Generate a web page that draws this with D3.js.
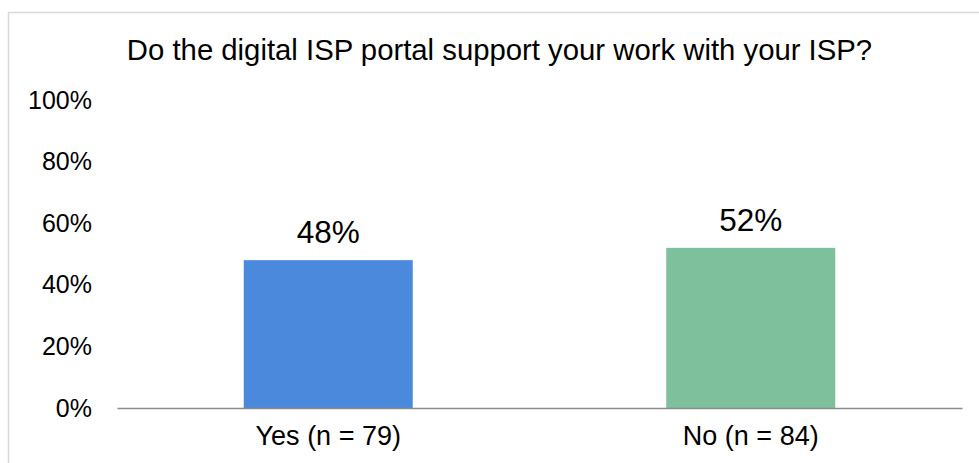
<!DOCTYPE html>
<html>
<head>
<meta charset="utf-8">
<script src="https://cdn.jsdelivr.net/npm/d3@7"></script>
<style>
  body { margin: 0; background: #fff; }
  svg { display: block; font-family: "Liberation Sans", Arial, sans-serif; }
</style>
</head>
<body>
<div id="chart"></div>
<script>
// chart data
const categories = ["Yes (n = 79)", "No (n = 84)"];
const values = [0.48, 0.52];
const barColors = ["#4a89dc", "#7dc09b"];
const yTicks = [0, 0.2, 0.4, 0.6, 0.8, 1.0];
const title = "Do the digital ISP portal support your work with your ISP?";

const W = 979, H = 463;
const margin = {top: 100, right: 17, bottom: 55, left: 117};
const width = W - margin.left - margin.right;
const height = 408 - margin.top;

const svg = d3.select("#chart")
  .append("svg")
    .attr("width", W)
    .attr("height", H);

// chart frame
svg.append("path")
  .attr("d", `M8.5,${H} V12.5 H${W}`)
  .attr("fill", "none")
  .attr("stroke", "#d9d9d9")
  .attr("stroke-width", 1.5);

svg.append("text")
  .attr("x", 499.5)
  .attr("y", 60)
  .attr("text-anchor", "middle")
  .style("font-size", "29.3px")
  .attr("fill", "#000")
  .text(title);

const g = svg.append("g")
  .attr("transform", `translate(${margin.left},${margin.top})`);

const x = d3.scaleBand()
  .domain(categories)
  .range([0, width])
  .paddingInner(0.6)
  .paddingOuter(0.3);

const y = d3.scaleLinear()
  .domain([0, 1])
  .range([height, 0]);

// Y axis (labels only)
const yAxis = g.append("g")
  .call(d3.axisLeft(y).tickValues(yTicks).tickFormat(d3.format(".0%")).tickSize(0).tickPadding(25))
  .style("font-size", "25px");
yAxis.select(".domain").remove();
yAxis.selectAll("text").attr("fill", "#000").attr("font-family", "Liberation Sans, Arial, sans-serif");

// bars
g.selectAll("rect.bar")
  .data(values)
  .join("rect")
    .attr("class", "bar")
    .attr("x", (d, i) => x(categories[i]))
    .attr("y", d => y(d))
    .attr("width", x.bandwidth())
    .attr("height", d => height - y(d))
    .style("fill", (d, i) => barColors[i]);

// value labels
g.selectAll("text.val")
  .data(values)
  .join("text")
    .attr("class", "val")
    .attr("x", (d, i) => x(categories[i]) + x.bandwidth() / 2)
    .attr("y", d => y(d) - 17)
    .attr("text-anchor", "middle")
    .style("font-size", "31.5px")
    .attr("fill", "#000")
    .text(d => d3.format(".0%")(d));

// X axis
const xAxis = g.append("g")
  .attr("transform", `translate(0,${height})`)
  .call(d3.axisBottom(x).tickSize(0).tickPadding(18))
  .style("font-size", "27px");
xAxis.select(".domain").attr("stroke", "#8c8c8c").attr("stroke-width", 1.5);
xAxis.selectAll("text").attr("fill", "#000").attr("font-family", "Liberation Sans, Arial, sans-serif");
</script>
</body>
</html>
